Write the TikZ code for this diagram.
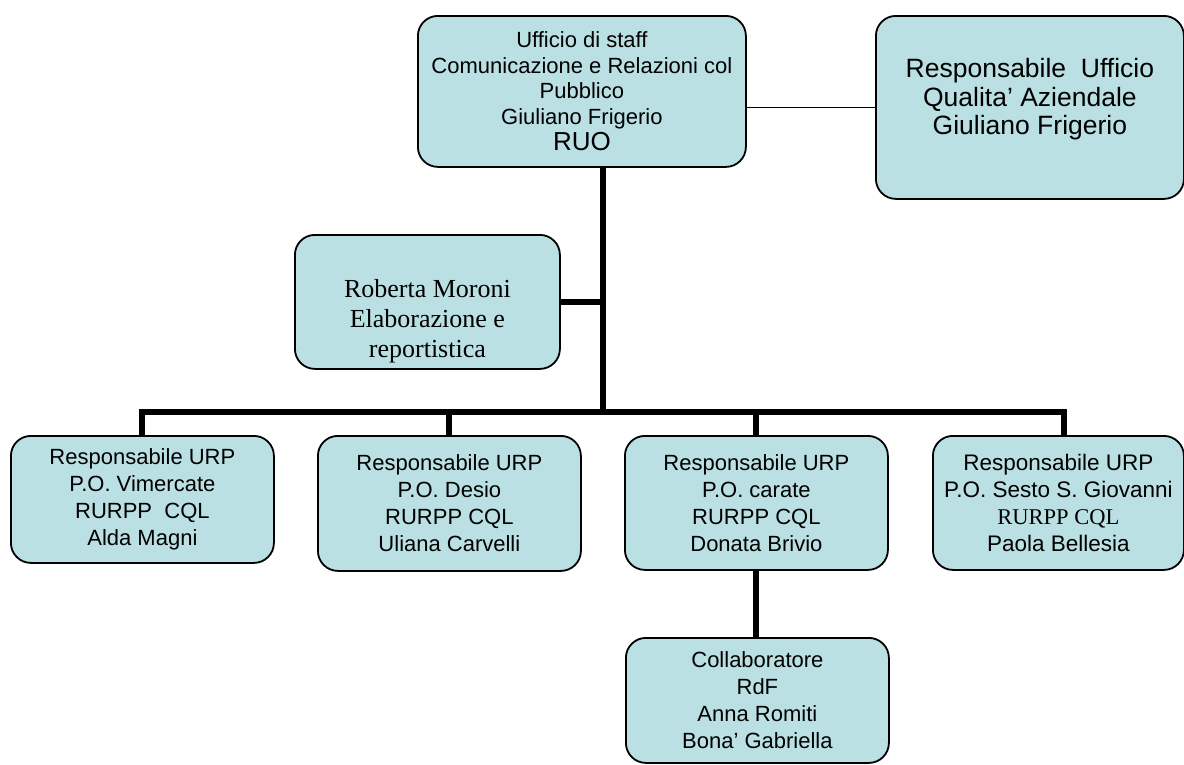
\documentclass[tikz,border=0pt]{standalone}
\usepackage{fontspec}
\setmainfont{Liberation Sans}
\newfontfamily\timesf{Liberation Serif}
\definecolor{boxfill}{RGB}{186,224,227}
\newcommand{\shiftedtext}[2]{\raisebox{#1}[0pt][0pt]{\begin{tabular}{@{}c@{}}#2\end{tabular}}}
\begin{document}
\begin{tikzpicture}[x=1pt,y=-1pt,
  box/.style={draw=black, line width=1.8pt, fill=boxfill, rounded corners=20pt,
    inner sep=0pt, align=center, anchor=north west},
  conn/.style={draw=black, line width=6pt, line join=miter},
  thin/.style={draw=black, line width=1.3pt},
  stdfont/.style={font=\fontsize{22}{27}\selectfont}]
\useasboundingbox (0,0) rectangle (1184,764);

% top box
\node[box, minimum width=328pt, minimum height=151pt, font=\fontsize{22}{25.5}\selectfont] (top) at (417,15)
  {Ufficio di staff\\ Comunicazione e Relazioni col\\ Pubblico\\ Giuliano Frigerio\\[1pt] {\fontsize{26}{28}\selectfont RUO}};

% right box
\node[box, minimum width=308pt, minimum height=183pt, font=\fontsize{26.5}{28.5}\selectfont] (qual) at (875,15)
  {\shiftedtext{0.5pt}{Responsabile~~Ufficio\\ Qualita’ Aziendale\\ Giuliano Frigerio}};

% Roberta
\node[box, minimum width=265pt, minimum height=134pt, font=\timesf\fontsize{26}{30}\selectfont] (rob) at (294,234)
  {\shiftedtext{-26pt}{Roberta Moroni\\ Elaborazione e\\ reportistica}};

% bottom boxes
\node[box, stdfont, minimum width=263pt, minimum height=127pt] (b1) at (10,435)
  {Responsabile URP\\ P.O. Vimercate\\ RURPP~~CQL\\ Alda Magni};
\node[box, stdfont, minimum width=263pt, minimum height=135pt] (b2) at (317,435)
  {Responsabile URP\\ P.O. Desio\\ RURPP CQL\\ Uliana Carvelli};
\node[box, stdfont, minimum width=263pt, minimum height=134pt] (b3) at (624,435)
  {Responsabile URP\\ P.O. carate\\ RURPP CQL\\ Donata Brivio};
\node[box, font=\fontsize{22.5}{27}\selectfont, minimum width=251pt, minimum height=134pt] (b4) at (932,435)
  {Responsabile URP\\ P.O. Sesto S. Giovanni\\ {\timesf RURPP CQL}\\ Paola Bellesia};

% collaboratore
\node[box, stdfont, minimum width=263pt, minimum height=125pt] (coll) at (625,637)
  {Collaboratore\\ RdF\\ Anna Romiti\\ Bona’ Gabriella};

% connectors
\coordinate (trunk) at (603,412);
\coordinate (c4) at (1064,412);
\draw[conn] (top.south -| trunk) -- (trunk);
\draw[conn] (rob.east) -- (rob.east -| trunk);
\draw[conn] (b1.north) |- (c4) -- (c4 |- b4.north);
\draw[conn] (b2.north) -- (b2.north |- trunk);
\draw[conn] (b3.north) -- (b3.north |- trunk);
\draw[conn] (b3.south) -- (b3.south |- coll.north);
\draw[thin] (qual.west) -- (qual.west -| top.east);
\end{tikzpicture}
\end{document}
